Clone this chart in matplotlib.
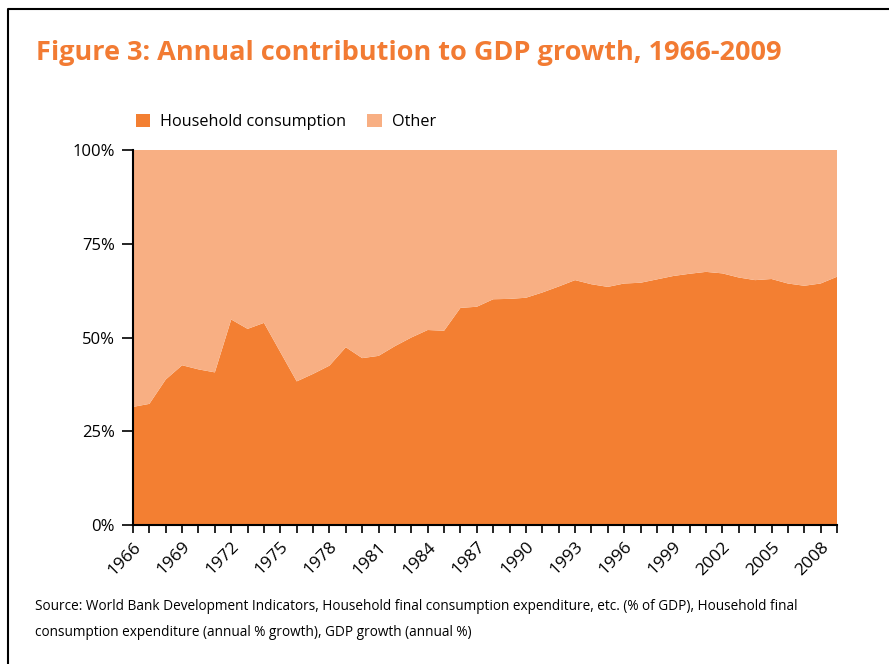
import matplotlib.pyplot as plt
from matplotlib.lines import Line2D
from matplotlib.patches import Patch
import numpy as np

plt.rcParams['font.family'] = ['Open Sans', 'DejaVu Sans']

# Household consumption share of GDP growth (%), 1966-2009
years = list(range(1966, 2010))
household = [31.5, 32.3, 38.8, 42.6, 41.5, 40.7, 54.8, 52.3, 53.9, 46.1,
             38.3, 40.3, 42.5, 47.4, 44.5, 45.1, 47.7, 50.0, 52.0, 51.8,
             57.9, 58.2, 60.2, 60.3, 60.6, 62.0, 63.6, 65.3, 64.2, 63.5,
             64.4, 64.6, 65.5, 66.4, 67.0, 67.5, 67.1, 66.0, 65.3, 65.6,
             64.4, 63.8, 64.4, 66.2]
other = [100 - v for v in household]

series_names = ['Household consumption', 'Other']
colors = ['#F37F32', '#F8AF83']
title_color = '#F27B33'

fig = plt.figure(figsize=(8.89, 6.64), dpi=100)
W, H = 889, 664
ax = fig.add_axes([133 / W, 1 - 525 / H, (837 - 133) / W, (525 - 150) / H])

x = np.arange(len(years))
ax.stackplot(x, household, other, colors=colors, linewidth=0)

ax.set_xlim(0, len(years) - 1)
ax.set_ylim(0, 100)

ax.set_yticks([0, 25, 50, 75, 100])
ax.set_yticklabels(['0%', '25%', '50%', '75%', '100%'], fontsize=12)
ax.set_xticks(x)
ax.set_xticklabels([str(y) if (y - 1966) % 3 == 0 else '' for y in years],
                   rotation=45, ha='right', va='top', rotation_mode='anchor',
                   fontsize=12.5)
ax.tick_params(axis='y', length=8, width=1.2, pad=5)
ax.tick_params(axis='x', length=6, width=1.2, pad=4)

for s in ['top', 'right']:
    ax.spines[s].set_visible(False)
for s in ['left', 'bottom']:
    ax.spines[s].set_linewidth(1.5)
    ax.spines[s].set_color('black')

# legend above the plot
handles = [Patch(facecolor=c, edgecolor='none') for c in colors]
fig.legend(handles, series_names, loc='center left',
           bbox_to_anchor=(121 / W, 1 - 122 / H), ncol=2, frameon=False,
           fontsize=11.7, handlelength=0.9, handleheight=0.9,
           handletextpad=0.6, columnspacing=1.3)

fig.text(36 / W, 1 - 53 / H, 'Figure 3: Annual contribution to GDP growth, 1966-2009',
         color=title_color, fontsize=19.5, fontweight='bold', va='center', ha='left')

fig.text(35 / W, 1 - 607 / H,
         'Source: World Bank Development Indicators, Household final consumption expenditure, etc. (% of GDP), Household final',
         fontsize=9.8, va='center', ha='left')
fig.text(35 / W, 1 - 633 / H,
         'consumption expenditure (annual % growth), GDP growth (annual %)',
         fontsize=9.8, va='center', ha='left')

# page frame
fig.add_artist(Line2D([8 / W, 8 / W, 1.0], [0.0, 1 - 9 / H, 1 - 9 / H],
                      transform=fig.transFigure, color='black', linewidth=1.5))

fig.savefig('out.png', dpi=100)
